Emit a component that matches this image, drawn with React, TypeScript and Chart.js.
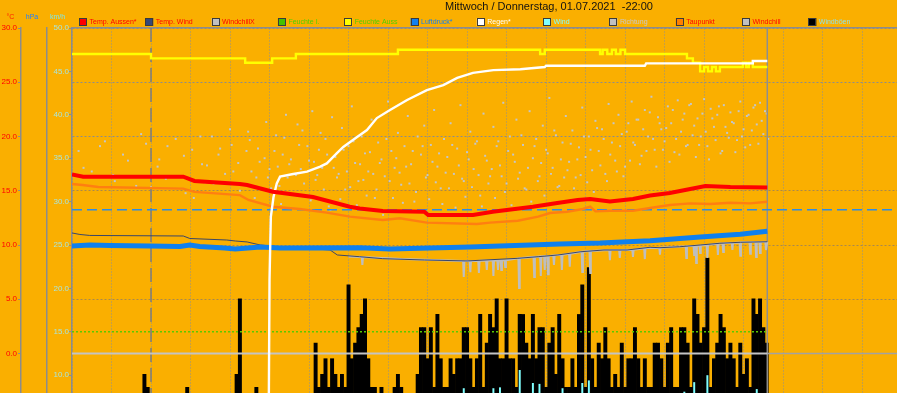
import React, { useEffect, useRef } from "react";
import { Chart, registerables } from "chart.js";

Chart.register(...registerables);

const FONT = "'Liberation Sans', Arial, sans-serif";
const BG = "#FAAF00";

const TITLE = "Mittwoch / Donnerstag, 01.07.2021  -22:00";
const UNIT_LABELS = ["°C", "hPa", "km/h"];
const UNIT_COLORS = ["#FF2000", "#2080FF", "#7FE6E6"];

// x axis: minutes since the start of the visible window, grid every hour
const X_MIN = 0;
const X_MAX = 1253;
const HOUR = 60;
const MIDNIGHT = 120;
const NOW = 1056;
const SAMPLE_STEP = 5;
const HALF_STEP = 2.5;

// axis ranges
const TEMP_MIN = -10, TEMP_MAX = 30, TEMP_STEP = 5;
const HPA_MIN = 990, HPA_MAX = 1030;
const KMH_MIN = 0, KMH_MAX = 50, KMH_STEP = 5;
const HUM_MIN = 0, HUM_MAX = 100;
const RAIN_MIN = 0, RAIN_MAX = 20;
const DIR_MIN = 0, DIR_MAX = 360;

const ZERO_C = 0;
const NORMAL_PRESSURE = 1013.25;

// legend
const legendLabels = ["Temp. Aussen*", "Temp. Wind", "WindchillX", "Feuchte I.", "Feuchte Auss", "Luftdruck*", "Regen*", "Wind", "Richtung", "Taupunkt", "Windchill", "Windböen"];
const legendBoxColors = ["#FF0000", "#34487A", "#C0C0C0", "#44C000", "#FFFF00", "#1080F0", "#FFFFFF", "#80FFFF", "#C0C0C0", "#FF8000", "#C0C0C0", "#000000"];
const legendTextColors = ["#FF0000", "#FF0000", "#FF0000", "#50D000", "#50D000", "#1080F0", "#FFFFFF", "#80FFFF", "#C8C8C8", "#FF0000", "#FF0000", "#90E0E0"];

// series: [minute, value]
const tempAussen: [number, number][] = [[0,16.5],[17,16.3],[169,16.3],[186,15.9],[255,15.62],[266,15.53],[305,14.91],[366,14.42],[422,13.53],[437,13.36],[472,13.13],[535,13.07],[541,12.76],[609,12.76],[639,13.07],[700,13.53],[737,13.87],[768,14.15],[787,14.24],[817,14.0],[852,14.24],[878,14.56],[908,14.79],[939,15.16],[962,15.44],[1000,15.35],[1056,15.3]];

const taupunkt: [number, number][] = [[0,15.62],[16,15.53],[40,15.35],[169,15.2],[186,14.9],[255,14.6],[268,14.15],[305,13.53],[346,13.32],[387,12.98],[422,12.61],[472,12.3],[498,12.46],[539,12.06],[615,11.94],[635,12.06],[677,12.24],[708,12.61],[726,12.95],[752,13.07],[776,13.32],[787,13.53],[795,13.1],[817,13.16],[852,13.16],[878,13.41],[908,13.69],[939,13.84],[969,13.78],[1000,13.9],[1030,13.84],[1056,13.99]];

const tempWind: [number, number][] = [[0,11.11],[12,10.97],[27,10.88],[169,10.83],[179,10.6],[199,10.55],[235,10.46],[248,10.37],[266,10.28],[286,10.0],[336,9.7],[377,9.6],[392,9.54],[403,9.08],[437,8.92],[472,8.74],[535,8.62],[600,8.53],[676,8.77],[708,8.92],[738,9.08],[773,9.38],[808,9.54],[843,9.54],[878,9.79],[893,9.75],[923,9.84],[954,10.0],[984,10.16],[1015,10.25],[1056,10.3]];

const windchill: [number, number][] = [[420,8.95],[440,8.9],[441,8.16],[442,8.9],[500,8.7],[594,8.53],[595,7.05],[596,8.53],[604,8.53],[605,7.5],[606,8.53],[617,8.55],[618,7.42],[619,8.55],[629,8.56],[630,7.7],[631,8.56],[639,8.58],[640,7.14],[641,8.58],[646,8.58],[647,7.7],[648,8.58],[651,8.6],[652,7.7],[653,8.6],[657,8.6],[658,7.97],[659,8.6],[678,8.77],[679,6.04],[680,8.78],[701,8.9],[702,7.05],[703,8.9],[711,8.95],[712,7.14],[713,8.95],[717,8.97],[718,7.7],[719,8.97],[722,8.98],[723,7.3],[724,8.98],[731,9.05],[732,8.16],[733,9.05],[743,9.1],[744,7.7],[745,9.1],[755,9.2],[756,8.0],[757,9.2],[774,9.38],[775,7.51],[776,9.38],[786,9.45],[787,7.42],[788,9.45],[816,9.54],[817,8.6],[818,9.54],[831,9.54],[832,8.8],[833,9.54],[851,9.55],[852,8.9],[853,9.56],[869,9.7],[870,8.7],[871,9.72],[892,9.75],[893,9.1],[894,9.75],[932,9.88],[933,8.8],[934,9.88],[944,9.92],[945,9.08],[946,9.93],[947,9.93],[948,8.34],[949,9.94],[953,9.95],[954,9.26],[955,9.96],[964,10.0],[965,8.8],[966,10.02],[980,10.12],[981,9.08],[982,10.13],[988,10.15],[989,9.35],[990,10.16],[1002,10.2],[1003,9.54],[1004,10.2],[1014,10.24],[1015,9.0],[1016,10.25],[1029,10.27],[1030,9.2],[1031,10.27],[1038,10.28],[1039,8.89],[1040,10.28],[1044,10.28],[1045,9.26],[1046,10.29],[1053,10.3],[1054,9.54],[1056,10.3]];

const luftdruck: [number, number][] = [[0,1009.91],[27,1010.0],[58,1009.95],[118,1009.91],[164,1009.86],[179,1010.0],[194,1009.86],[232,1009.72],[248,1009.63],[286,1009.82],[316,1009.72],[437,1009.75],[483,1009.63],[544,1009.72],[605,1009.82],[650,1009.91],[696,1010.0],[741,1010.09],[802,1010.18],[878,1010.4],[954,1010.74],[1015,1011.0],[1056,1011.27]];

const feuchteAuss: [number, number][] = [[0,94],[120,93],[263,92],[304,93],[340,94],[495,95],[711,94],[718,95],[802,94],[806,95],[813,94],[820,95],[826,94],[833,95],[840,94],[934,93],[943,92],[954,90],[960,91],[966,90],[972,91],[978,90],[984,91],[1019,92],[1024,91],[1028,92],[1034,91],[1056,91]];

const feuchteInnen: [number, number][] = [[0,30],[1056,30]];

const regen: [number, number][] = [[0,0],[297,0],[299,3.2],[300,8.4],[302,11.3],[306,12.2],[311,12.84],[316,13.15],[336,13.27],[357,13.38],[377,13.61],[387,13.76],[402,14.22],[412,14.52],[433,14.98],[448,15.3],[463,15.85],[483,16.22],[509,16.68],[539,17.14],[564,17.37],[585,17.7],[609,17.93],[640,18.06],[681,18.1],[718,18.2],[720,18.26],[870,18.26],[872,18.37],[1033,18.37],[1034,18.48],[1056,18.48]];

// 5-minute samples from minute 0
const windboeen: number[] = [
  0,0,0,0,0,0,0,0,0,0,
  0,0,0,0,3.6,0,0,0,0,0,
  1.8,3.6,10.1,8.6,3.6,0,0,1.8,0,0,
  0,0,1.8,3.6,5.4,8.6,3.6,0,0,1.8,
  0,0,0,1.8,0,0,3.6,1.8,0,3.6,
  10.1,18.8,5.4,1.8,3.6,5.4,8.6,3.6,1.8,3.6,
  5.4,3.6,5.4,7.2,5.4,3.6,5.4,7.2,5.4,5.4,
  5.4,5.4,7.2,5.4,13.7,8.6,10.1,11.9,8.6,11.9,
  10.1,8.6,10.1,8.6,20.4,11.9,13.7,15.5,17.0,18.8,
  11.9,8.6,8.6,5.4,8.6,7.2,5.4,7.2,8.6,10.1,
  8.6,5.4,7.2,5.4,7.2,10.1,15.5,15.5,11.9,15.5,
  8.6,17.0,11.9,8.6,8.6,11.9,10.1,11.9,11.9,15.5,
  15.5,11.9,8.6,11.9,17.0,8.6,13.7,17.0,15.5,18.8,
  11.9,11.9,18.8,11.9,11.9,8.6,17.0,17.0,13.7,11.9,
  17.0,11.9,15.5,15.5,8.6,13.7,15.5,10.1,17.0,11.9,
  8.6,8.6,11.9,8.6,17.0,20.4,8.6,22.4,11.9,8.6,
  13.7,11.9,15.5,11.9,8.6,10.1,8.6,13.7,8.6,11.9,
  11.9,15.5,11.9,8.6,11.9,8.6,8.6,13.7,13.7,11.9,
  8.6,13.7,15.5,8.6,8.6,15.5,15.5,13.7,8.6,18.8,
  17.0,13.7,15.5,23.5,8.6,11.9,13.7,17.0,15.5,11.9,
  13.7,11.9,8.6,13.7,10.1,11.9,8.6,18.8,17.0,18.8,
  15.5,13.7
];

const wind: number[] = [
  0,0,0,0,0,0,0,0,0,0,
  0,0,0,0,1.8,0,0,0,0,0,
  0,1.8,3.6,3.6,1.8,0,0,0,0,0,
  0,0,0,1.8,1.8,3.6,1.8,0,0,0,
  0,0,0,0,0,0,1.8,0,0,1.8,
  3.6,5.4,1.8,0,1.8,1.8,3.6,1.8,0,1.8,
  1.8,1.8,3.6,3.6,1.8,1.8,3.6,3.6,1.8,1.8,
  3.6,1.8,3.6,1.8,5.4,3.6,3.6,5.4,3.6,5.4,
  3.6,3.6,3.6,3.6,7.2,5.4,5.4,5.4,7.2,7.2,
  5.4,3.6,3.6,1.8,3.6,3.6,1.8,3.6,3.6,5.4,
  3.6,1.8,3.6,1.8,3.6,5.4,5.4,7.2,5.4,5.4,
  3.6,5.4,5.4,3.6,3.6,5.4,5.4,5.4,5.4,8.5,
  7.2,5.4,3.6,5.4,7.2,3.6,5.4,7.2,8.5,7.2,
  8.6,5.4,7.2,5.4,5.4,3.6,10.6,7.2,5.4,5.4,
  9.1,5.4,9.0,7.2,3.6,5.4,7.2,5.4,7.2,8.5,
  3.6,3.6,5.4,3.6,7.2,9.1,3.6,9.4,5.4,3.6,
  5.4,5.4,7.2,5.4,3.6,5.4,3.6,5.4,3.6,5.4,
  5.4,5.4,5.4,3.6,5.4,3.6,3.6,5.4,5.4,5.4,
  3.6,5.4,7.2,3.6,3.6,5.4,8.1,5.4,3.6,9.2,
  7.2,5.4,7.2,10.0,5.4,5.4,5.4,7.2,5.4,5.4,
  5.4,5.4,3.6,5.4,5.4,5.4,3.6,7.2,8.4,7.2,
  5.4,5.4
];

// wind direction (°), 5-minute samples and the readings in between
const richtung: (number | null)[] = [
  null,null,258,null,null,null,241,null,null,null,
  266,null,null,233,null,null,null,250,null,null,
  null,272,null,null,228,null,245,null,null,262,
  null,null,237,null,254,null,null,219,null,270,
  null,246,null,231,null,260,null,null,276,241,
  null,225,null,258,267,null,236,249,null,282,
  243,null,271,229,255,288,247,null,238,263,
  275,221,250,291,234,259,244,268,212,286,
  253,239,277,226,262,295,248,233,270,256,
  241,284,219,265,251,237,299,258,244,273,
  230,262,287,247,216,270,255,279,238,263,
  292,245,227,268,253,281,239,260,296,233,
  257,274,243,266,221,289,250,237,278,262,
  246,298,231,270,255,284,240,263,226,291,
  252,268,237,279,259,302,244,271,229,265,
  287,249,275,236,261,294,253,270,242,283,
  258,276,239,297,265,250,288,272,245,281,
  299,263,284,254,292,270,303,259,286,276,
  266,295,281,257,300,274,289,263,297,279,
  285,270,301,262,293,278,288,256,296,273,
  290,281,267,299,276,287,263,294,280,298,
  272,289
];

const richtungZwischen: (number | null)[] = [
  null,null,null,244,null,null,null,null,262,null,
  null,null,238,null,null,255,null,null,null,229,
  null,null,264,null,null,null,251,null,235,null,
  null,268,null,null,223,null,259,null,null,247,
  232,null,270,null,255,null,239,null,263,null,
  248,230,null,274,241,219,260,null,252,236,
  227,258,245,214,269,236,251,222,280,243,
  231,262,217,249,238,273,226,255,209,244,
  236,218,259,241,228,266,213,247,234,221,
  257,239,226,248,205,268,233,219,252,240,
  215,245,231,258,224,209,262,236,218,249,
  232,256,214,240,227,263,211,246,235,220,
  251,228,264,238,212,254,231,243,219,266,
  237,224,258,213,249,235,271,227,244,216,
  262,233,248,221,256,239,275,228,251,236,
  242,264,227,251,238,270,232,259,224,277,
  246,268,233,255,281,241,262,237,274,250,
  265,284,247,276,258,290,268,245,281,259,
  277,249,292,268,255,284,262,296,271,253,
  263,289,274,251,285,267,295,258,278,269,
  282,257,291,270,261,288,275,296,264,283,
  291,268
];

const pts = (a: [number, number][]) => a.map(([x, y]) => ({ x, y }));
const sampled = (a: (number | null)[], offset = 0) => a.map((y, i) => ({ x: X_MIN + offset + i * SAMPLE_STEP, y }));
const fmt1 = (v: any) => Number(v).toFixed(1);

const headerPlugin = {
  id: "header",
  beforeDraw(chart: any) {
    const { ctx, width, height } = chart;
    ctx.save();
    ctx.fillStyle = BG;
    ctx.fillRect(0, 0, width, height);
    ctx.restore();
  },
  afterDraw(chart: any) {
    const ctx = chart.ctx;
    ctx.save();
    ctx.textBaseline = "middle";
    ctx.textAlign = "left";
    ctx.font = `11px ${FONT}`;
    ctx.fillStyle = "#111111";
    ctx.fillText(TITLE, 445, 7);

    ctx.font = `7px ${FONT}`;
    legendLabels.forEach((label, i) => {
      const x = 79 + i * 66.3;
      ctx.fillStyle = legendBoxColors[i];
      ctx.fillRect(x, 18, 8, 8);
      ctx.strokeStyle = "#3A3A3A";
      ctx.lineWidth = 1;
      ctx.strokeRect(Math.round(x) + 0.5, 18.5, 7, 7);
      ctx.fillStyle = legendTextColors[i];
      ctx.fillText(label, x + 10.5, 22.5);
    });

    const unitX = [10.5, 32, 57.5];
    ctx.textAlign = "center";
    UNIT_LABELS.forEach((u, i) => {
      ctx.fillStyle = UNIT_COLORS[i];
      ctx.fillText(u, unitX[i], 17.5);
    });
    ctx.restore();
  },
};

export default function App() {
  const ref = useRef<HTMLCanvasElement>(null);

  useEffect(() => {
    const canvas = ref.current;
    if (!canvas) return;

    const line = (extra: any) => ({
      type: "line",
      xAxisID: "x",
      pointRadius: 0,
      pointHoverRadius: 0,
      fill: false,
      tension: 0,
      ...extra,
    });
    const dots = (label: string, data: any[]) => line({
      label, data, yAxisID: "yD", showLine: false, pointRadius: 1.4, pointStyle: "rect",
      pointBackgroundColor: "#C2C6CC", pointBorderWidth: 0, borderColor: "#C2C6CC", order: 11,
    });

    const datasets: any[] = [
      line({ label: "Temp. Aussen*", data: pts(tempAussen), yAxisID: "yT", borderColor: "#FF0000", borderWidth: 4, order: 0 }),
      line({ label: "Regen*", data: pts(regen), yAxisID: "yR", borderColor: "#FFFFFF", borderWidth: 2.4, order: 1 }),
      line({ label: "Feuchte Auss", data: pts(feuchteAuss), yAxisID: "yH", borderColor: "#FFFF00", borderWidth: 2.4, stepped: true, order: 2 }),
      line({ label: "Luftdruck*", data: pts(luftdruck), yAxisID: "yP", borderColor: "#0F80EE", borderWidth: 5, order: 3 }),
      line({ label: "Taupunkt", data: pts(taupunkt), yAxisID: "yT", borderColor: "#FF7F10", borderWidth: 2.4, order: 4 }),
      line({ label: "Temp. Wind", data: pts(tempWind), yAxisID: "yT", borderColor: "#3A4668", borderWidth: 1, order: 5 }),
      line({ label: "Windchill", data: pts(windchill), yAxisID: "yT", borderColor: "#BEBEBE", borderWidth: 2, order: 6 }),
      line({ label: "Feuchte I.", data: pts(feuchteInnen), yAxisID: "yH", borderColor: "#5CC800", borderWidth: 1.5, borderDash: [2, 2], order: 7 }),
      line({ label: "0 °C", data: [{ x: X_MIN, y: ZERO_C }, { x: NOW, y: ZERO_C }], yAxisID: "yT", borderColor: "#C4C4C4", borderWidth: 2, order: 8 }),
      line({ label: "0 °C (future)", data: [{ x: NOW, y: ZERO_C }, { x: X_MAX, y: ZERO_C }], yAxisID: "yT", borderColor: "#A2A2A2", borderWidth: 1.5, order: 8 }),
      line({ label: "1013 hPa", data: [{ x: X_MIN, y: NORMAL_PRESSURE }, { x: X_MAX, y: NORMAL_PRESSURE }], yAxisID: "yP", borderColor: "#2C8CE8", borderWidth: 1.5, borderDash: [10, 5], order: 9 }),
      line({ label: "Mitternacht", data: [{ x: MIDNIGHT, y: TEMP_MIN }, { x: MIDNIGHT, y: TEMP_MAX }], yAxisID: "yT", borderColor: "#7C7C7C", borderWidth: 1.5, borderDash: [14, 6], order: 10 }),
      line({ label: "Jetzt", data: [{ x: NOW, y: TEMP_MIN }, { x: NOW, y: TEMP_MAX }], yAxisID: "yT", borderColor: "#8E8E8E", borderWidth: 1.5, order: 10 }),
      dots("Richtung", sampled(richtung)),
      dots("Richtung (Zwischenwerte)", sampled(richtungZwischen, HALF_STEP)),
      { type: "bar", label: "Wind", data: sampled(wind), xAxisID: "x", yAxisID: "yK", backgroundColor: "#80FFFF", borderWidth: 0, grouped: false, categoryPercentage: 1, barPercentage: 0.6, order: 12 },
      { type: "bar", label: "Windböen", data: sampled(windboeen), xAxisID: "x", yAxisID: "yK", backgroundColor: "#000000", borderWidth: 0, grouped: false, categoryPercentage: 1, barPercentage: 1, order: 13 },
    ];

    const tickFont = { size: 8, family: FONT };
    const grey = "#8C8C8C";

    const chart = new Chart(canvas, {
      type: "line",
      data: { datasets },
      plugins: [headerPlugin],
      options: {
        responsive: false,
        maintainAspectRatio: false,
        devicePixelRatio: 1,
        animation: false,
        events: [],
        layout: { autoPadding: false, padding: { top: 28, left: 0, right: 0, bottom: 6 } },
        plugins: { legend: { display: false }, title: { display: false }, tooltip: { enabled: false } },
        scales: {
          x: {
            type: "linear", axis: "x", position: "top", min: X_MIN, max: X_MAX, offset: false,
            ticks: { display: false, stepSize: HOUR, includeBounds: false, maxTicksLimit: 100 },
            grid: { color: "#8E8E8E", lineWidth: 1, drawTicks: false, offset: false },
            border: { display: true, color: grey, width: 1.5, dash: [1, 2] },
            afterFit: (s: any) => { s.height = 0; },
          },
          yT: {
            type: "linear", axis: "y", position: "left", weight: 3, min: TEMP_MIN, max: TEMP_MAX,
            ticks: { stepSize: TEMP_STEP, color: "#FF0000", font: tickFont, padding: 1, callback: fmt1, autoSkip: false },
            grid: {
              color: (c: any) => (c.tick && [15, 10, 5].includes(c.tick.value) ? "#A8884E" : "#8C8C8C"),
              lineWidth: 1, tickLength: 3, tickColor: grey, drawOnChartArea: true,
            },
            border: { display: true, color: grey, width: 1.5, dash: [2, 2] },
            afterFit: (s: any) => { s.width = 21; },
          },
          yP: {
            type: "linear", axis: "y", position: "left", weight: 2, min: HPA_MIN, max: HPA_MAX,
            ticks: { display: false },
            grid: { display: false },
            border: { display: true, color: grey, width: 1.5 },
            afterFit: (s: any) => { s.width = 26; },
          },
          yK: {
            type: "linear", axis: "y", position: "left", weight: 1, min: KMH_MIN, max: KMH_MAX,
            ticks: { stepSize: KMH_STEP, color: "#A8E4DC", font: tickFont, padding: 0, callback: fmt1, autoSkip: false },
            grid: { drawOnChartArea: false, tickLength: 3, color: grey, tickColor: grey },
            border: { display: true, color: grey, width: 1.5 },
            afterFit: (s: any) => { s.width = 25; },
          },
          yH: { type: "linear", axis: "y", display: false, min: HUM_MIN, max: HUM_MAX },
          yR: { type: "linear", axis: "y", display: false, min: RAIN_MIN, max: RAIN_MAX },
          yD: { type: "linear", axis: "y", display: false, min: DIR_MIN, max: DIR_MAX },
        },
      } as any,
    } as any);

    return () => chart.destroy();
  }, []);

  return (
    <div style={{ position: "fixed", left: 0, top: 0, width: 897, height: 393, overflow: "hidden", background: BG }}>
      <canvas ref={ref} width={897} height={468} style={{ display: "block", width: 897, height: 468 }} />
    </div>
  );
}
